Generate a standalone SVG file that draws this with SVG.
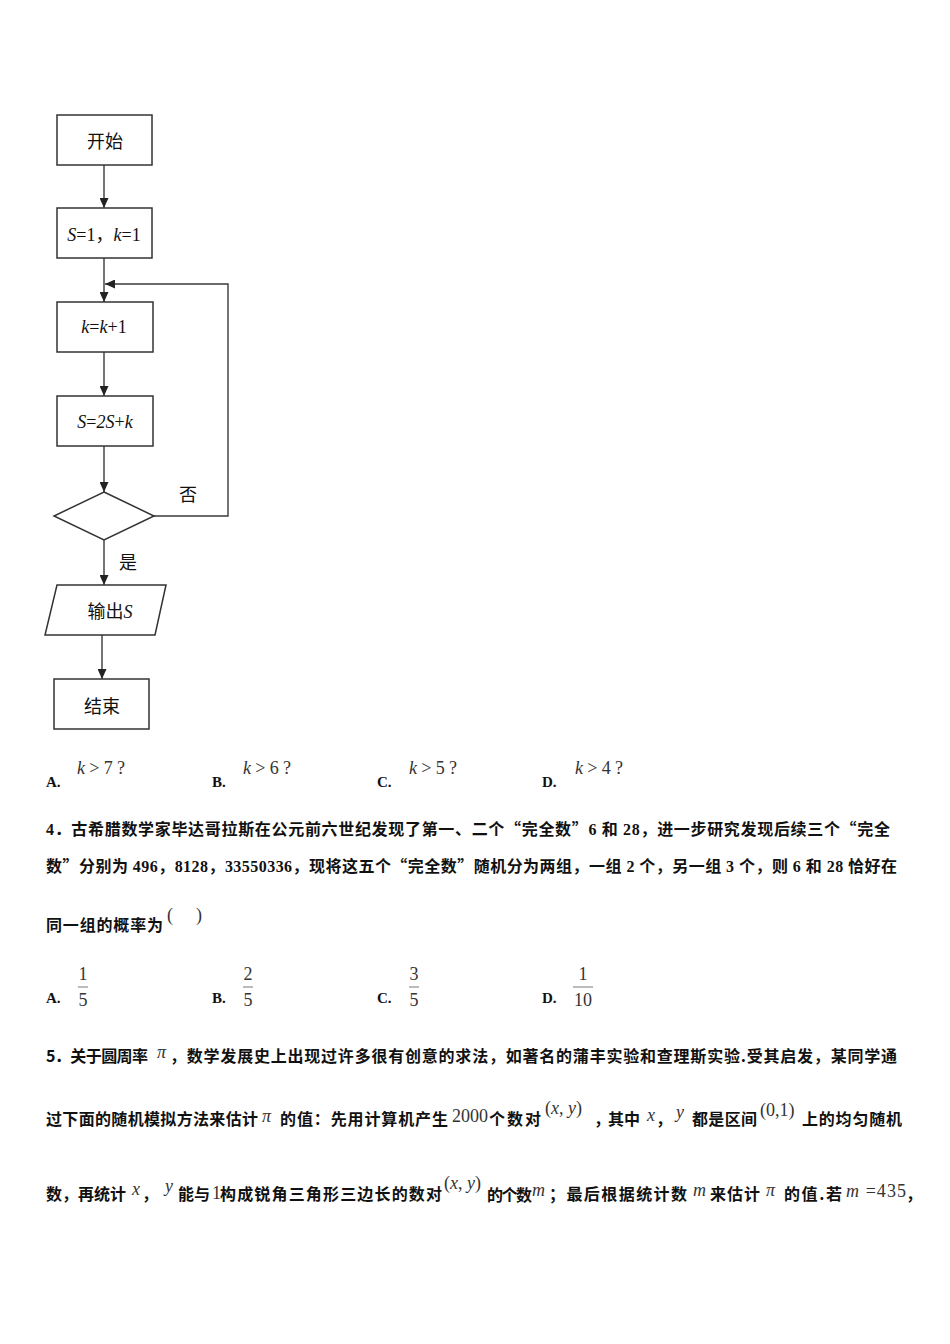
<svg xmlns="http://www.w3.org/2000/svg" width="950" height="1344" viewBox="0 0 950 1344">
<style>
.box{fill:#fff;stroke:#333;stroke-width:1.5}
.ln{fill:none;stroke:#3a3a3a;stroke-width:1.4}
.cj{font-family:"Noto Sans CJK SC",sans-serif;font-size:18px;fill:#111}
.fm{font-family:"Liberation Serif","Noto Sans CJK SC",serif;font-size:18px;fill:#111}
.it{font-style:italic}
.opt{font-family:"Liberation Serif",serif;font-size:15px;font-weight:bold;fill:#111}
.m{font-family:"Liberation Serif",serif;font-size:18px;fill:#333}
.q4{font-family:"Liberation Serif","Noto Sans CJK SC",serif;font-size:16px;font-weight:bold;fill:#111}
.q5{font-family:"Noto Sans CJK SC",sans-serif;font-size:16px;font-weight:bold;fill:#111}
.qc{font-family:"Noto Sans CJK SC",sans-serif}
</style>
<defs>
<marker id="ah" markerUnits="userSpaceOnUse" markerWidth="10" markerHeight="9" refX="10" refY="4.5" orient="auto">
<path d="M0,0 L10,4.5 L0,9 z" fill="#222"/>
</marker>
</defs>
<rect width="950" height="1344" fill="#fff"/>

<g id="connectors">
<line class="ln" x1="104" y1="165" x2="104" y2="208" marker-end="url(#ah)"/>
<line class="ln" x1="104" y1="258" x2="104" y2="302" marker-end="url(#ah)"/>
<polyline class="ln" points="154,516 228,516 228,284 105,284" marker-end="url(#ah)"/>
<line class="ln" x1="104" y1="352" x2="104" y2="396" marker-end="url(#ah)"/>
<line class="ln" x1="104" y1="446" x2="104" y2="492" marker-end="url(#ah)"/>
<line class="ln" x1="104" y1="540" x2="104" y2="585" marker-end="url(#ah)"/>
<line class="ln" x1="102" y1="635" x2="102" y2="679" marker-end="url(#ah)"/>
<text class="cj" x="188" y="501" text-anchor="middle" font-size="17">否</text>
<text class="cj" x="128" y="569" text-anchor="middle" font-size="17">是</text>
</g>

<g id="start">
<rect class="box" x="57" y="115" width="95" height="50"/>
<text class="cj" x="105" y="148" text-anchor="middle">开始</text>
</g>
<g id="init">
<rect class="box" x="57" y="208" width="95" height="50"/>
<text class="fm" x="104" y="241" text-anchor="middle"><tspan class="it">S</tspan>=1<tspan class="qc">，</tspan><tspan class="it">k</tspan>=1</text>
</g>
<g id="inc">
<rect class="box" x="57" y="302" width="96" height="50"/>
<text class="fm" x="104" y="333" text-anchor="middle"><tspan class="it">k</tspan>=<tspan class="it">k</tspan>+1</text>
</g>
<g id="update">
<rect class="box" x="57" y="396" width="96" height="50"/>
<text class="fm" x="105" y="428" text-anchor="middle"><tspan class="it">S</tspan>=<tspan class="it">2S</tspan>+<tspan class="it">k</tspan></text>
</g>
<g id="decision">
<polygon class="box" points="104,492 154,516 104,540 54,516"/>
</g>
<g id="output">
<polygon class="box" points="57,585 166,585 155,635 45,635"/>
<text class="cj" x="110" y="618" text-anchor="middle">输出<tspan font-family="Liberation Serif" font-style="italic" font-size="18">S</tspan></text>
</g>
<g id="end">
<rect class="box" x="54" y="679" width="95" height="50"/>
<text class="cj" x="102" y="713" text-anchor="middle">结束</text>
</g>

<g id="options3">
<text class="opt" x="46" y="787">A.</text>
<text class="m" x="77" y="774" textLength="48" lengthAdjust="spacing"><tspan font-style="italic">k</tspan> &gt; 7 ?</text>
<text class="opt" x="212" y="787">B.</text>
<text class="m" x="243" y="774" textLength="48" lengthAdjust="spacing"><tspan font-style="italic">k</tspan> &gt; 6 ?</text>
<text class="opt" x="377" y="787">C.</text>
<text class="m" x="409" y="774" textLength="48" lengthAdjust="spacing"><tspan font-style="italic">k</tspan> &gt; 5 ?</text>
<text class="opt" x="542" y="787">D.</text>
<text class="m" x="575" y="774" textLength="48" lengthAdjust="spacing"><tspan font-style="italic">k</tspan> &gt; 4 ?</text>
</g>

<g id="q4">
<text class="q4" x="46" y="835" textLength="844" lengthAdjust="spacing">4．古希腊数学家毕达哥拉斯在公元前六世纪发现了第一、二个<tspan class="qc">“</tspan>完全数<tspan class="qc">”</tspan>6 和 28，进一步研究发现后续三个<tspan class="qc">“</tspan>完全</text>
<text class="q4" x="46" y="872" textLength="851" lengthAdjust="spacing">数<tspan class="qc">”</tspan>分别为 496，8128，33550336，现将这五个<tspan class="qc">“</tspan>完全数<tspan class="qc">”</tspan>随机分为两组，一组 2 个，另一组 3 个，则 6 和 28 恰好在</text>
<text class="q4" x="46" y="931" textLength="117" lengthAdjust="spacing">同一组的概率为</text>
<text class="m" x="167" y="921">(</text>
<text class="m" x="196" y="921">)</text>
</g>

<g id="options4">
<text class="opt" x="46" y="1003">A.</text>
<text class="m" x="83" y="980" text-anchor="middle">1</text>
<line x1="78" y1="987" x2="88" y2="987" stroke="#555" stroke-width="0.8"/>
<text class="m" x="83" y="1006" text-anchor="middle">5</text>
<text class="opt" x="212" y="1003">B.</text>
<text class="m" x="248" y="980" text-anchor="middle">2</text>
<line x1="243" y1="987" x2="253" y2="987" stroke="#555" stroke-width="0.8"/>
<text class="m" x="248" y="1006" text-anchor="middle">5</text>
<text class="opt" x="377" y="1003">C.</text>
<text class="m" x="414" y="980" text-anchor="middle">3</text>
<line x1="409" y1="987" x2="419" y2="987" stroke="#555" stroke-width="0.8"/>
<text class="m" x="414" y="1006" text-anchor="middle">5</text>
<text class="opt" x="542" y="1003">D.</text>
<text class="m" x="583" y="980" text-anchor="middle">1</text>
<line x1="573" y1="987" x2="593" y2="987" stroke="#555" stroke-width="0.8"/>
<text class="m" x="583" y="1006" text-anchor="middle">10</text>
</g>

<g id="q5">
<text class="q5" x="46" y="1062" textLength="102" lengthAdjust="spacing">5．关于圆周率</text>
<text class="m" x="157" y="1058" font-style="italic" font-size="16">π</text>
<text class="q5" x="170" y="1062" textLength="727" lengthAdjust="spacing">，数学发展史上出现过许多很有创意的求法，如著名的蒲丰实验和查理斯实验.受其启发，某同学通</text>

<text class="q5" x="46" y="1125" textLength="212" lengthAdjust="spacing">过下面的随机模拟方法来估计</text>
<text class="m" x="262" y="1122" font-style="italic" font-size="16">π</text>
<text class="q5" x="280" y="1125" textLength="168" lengthAdjust="spacing">的值：先用计算机产生</text>
<text class="m" x="452" y="1122">2000</text>
<text class="q5" x="489" y="1125" textLength="52" lengthAdjust="spacing">个数对</text>
<text class="m" x="545" y="1114" font-size="20">(<tspan font-style="italic">x</tspan>, <tspan font-style="italic">y</tspan>)</text>
<text class="q5" x="594" y="1125">，</text>
<text class="q5" x="608" y="1125" textLength="32" lengthAdjust="spacing">其中</text>
<text class="m" x="647" y="1121" font-style="italic">x</text>
<text class="q5" x="656" y="1125">，</text>
<text class="m" x="676" y="1118" font-style="italic">y</text>
<text class="q5" x="692" y="1125" textLength="65" lengthAdjust="spacing">都是区间</text>
<text class="m" x="760" y="1116" font-size="19">(0,1)</text>
<text class="q5" x="802" y="1125" textLength="100" lengthAdjust="spacing">上的均匀随机</text>

<text class="q5" x="46" y="1200" textLength="80" lengthAdjust="spacing">数，再统计</text>
<text class="m" x="132" y="1195" font-style="italic">x</text>
<text class="q5" x="142" y="1200">，</text>
<text class="m" x="165" y="1192" font-style="italic">y</text>
<text class="q5" x="178" y="1200" textLength="32" lengthAdjust="spacing">能与</text>
<text class="m" x="212" y="1199">1</text>
<text class="q5" x="220" y="1200" textLength="222" lengthAdjust="spacing">构成锐角三角形三边长的数对</text>
<text class="m" x="444" y="1189" font-size="20">(<tspan font-style="italic">x</tspan>, <tspan font-style="italic">y</tspan>)</text>
<text class="q5" x="487" y="1201" textLength="45" lengthAdjust="spacing">的个数</text>
<text class="m" x="532" y="1196" font-style="italic">m</text>
<text class="q5" x="549" y="1200" textLength="138" lengthAdjust="spacing">；最后根据统计数</text>
<text class="m" x="693" y="1196" font-style="italic">m</text>
<text class="q5" x="710" y="1200" textLength="50" lengthAdjust="spacing">来估计</text>
<text class="m" x="766" y="1196" font-style="italic" font-size="16">π</text>
<text class="q5" x="784" y="1200" textLength="58" lengthAdjust="spacing">的值.若</text>
<text class="m" x="846" y="1197" textLength="60" lengthAdjust="spacing"><tspan font-style="italic">m</tspan> =435</text>
<text class="q5" x="906" y="1200">，</text>
</g>
</svg>
